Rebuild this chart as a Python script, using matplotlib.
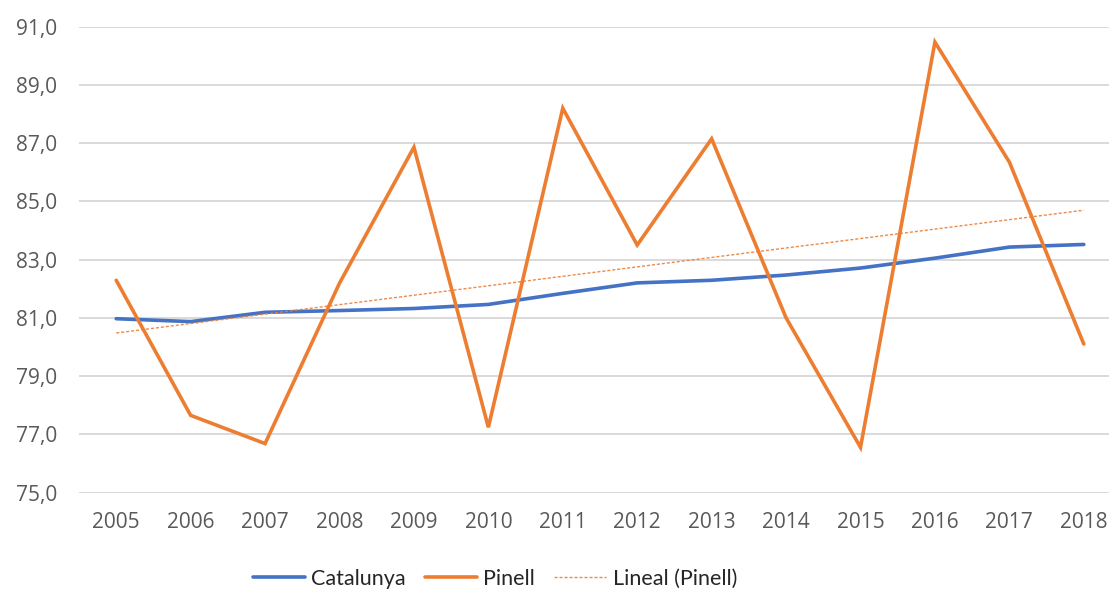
import numpy as np
import matplotlib
matplotlib.use("Agg")
import matplotlib.pyplot as plt
from matplotlib.ticker import FuncFormatter

anys = ["2005", "2006", "2007", "2008", "2009", "2010", "2011",
        "2012", "2013", "2014", "2015", "2016", "2017", "2018"]
catalunya = [80.97, 80.87, 81.19, 81.25, 81.32, 81.46, 81.84,
             82.20, 82.29, 82.47, 82.71, 83.05, 83.43, 83.52]
pinell = [82.29, 77.65, 76.68, 82.19, 86.86, 77.24, 88.20,
          83.50, 87.15, 81.00, 76.55, 90.47, 86.35, 80.10]

COLOR_BLAU = "#4472C4"
COLOR_TARONJA = "#ED7D31"
COLOR_TEXT = "#595959"

plt.rcParams['font.family'] = ['Open Sans', 'DejaVu Sans']

fig = plt.figure(figsize=(11.09, 5.92), dpi=100)
ax = fig.add_axes([79 / 1109, 1 - 492.5 / 592, 1042 / 1109, (492.5 - 26.7) / 592])

x = np.arange(len(anys))
ax.plot(x, catalunya, color=COLOR_BLAU, lw=2.6, solid_capstyle='round', label="Catalunya", zorder=3)
ax.plot(x, pinell, color=COLOR_TARONJA, lw=2.6, solid_capstyle='round',
        solid_joinstyle='miter', label="Pinell", zorder=4)

# tendencia lineal (com Excel)
a, b = np.polyfit(x, pinell, 1)
ax.plot(x, a * x + b, color=COLOR_TARONJA, lw=1.0, ls=(0, (2.2, 1.4)), alpha=0.9,
        label="Lineal (Pinell)", zorder=5)

ax.set_xlim(-0.5, len(anys) - 0.5)
ax.set_ylim(75, 91)
ax.set_yticks(np.arange(75, 92, 2))
ax.yaxis.set_major_formatter(FuncFormatter(lambda v, p: f"{v:.1f}".replace(".", ",")))
ax.set_xticks(x)
ax.set_xticklabels(anys)

for s in ax.spines.values():
    s.set_visible(False)
ax.grid(axis='y', color="#D9D9D9", lw=1.4)
ax.set_axisbelow(True)
ax.tick_params(axis='both', length=0, colors=COLOR_TEXT, labelsize=15)
ax.tick_params(axis='y', pad=16)
ax.tick_params(axis='x', pad=14)

fig.legend(loc='center', bbox_to_anchor=(495 / 1109, 1 - 579 / 592), ncol=3, frameon=False,
           prop={'family': ['Lato', 'DejaVu Sans'], 'size': 15.5},
           handlelength=2.4, handletextpad=0.3, columnspacing=0.9,
           labelcolor="#262626")

fig.savefig("out.png", dpi=100)
